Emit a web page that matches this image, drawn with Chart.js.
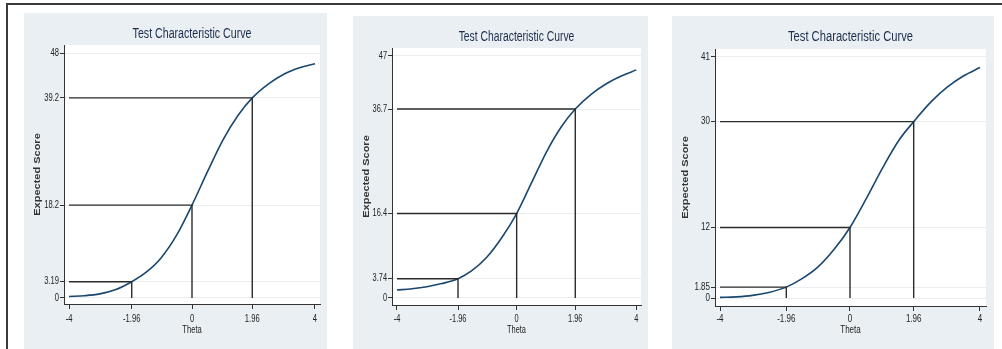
<!DOCTYPE html>
<html>
<head>
<meta charset="utf-8">
<script src="https://cdn.jsdelivr.net/npm/chart.js@4.4.0/dist/chart.umd.min.js"></script>
<style>
  body { margin: 0; width: 1002px; height: 349px; position: relative; overflow: hidden; background: #fff; }
  #frame { position: absolute; left: 6px; top: 3px; width: 1000px; height: 360px;
           border-left: 2px solid #3a3a3a; border-top: 2px solid #3a3a3a; }
  .panel { position: absolute; background: #e9eff2; }
  .panel canvas { display: block; }
</style>
</head>
<body>
<div id="frame"></div>
<div class="panel" style="left:24px;top:13px;width:303px;height:336px"><canvas id="tcc-a" width="303" height="336"></canvas></div>
<div class="panel" style="left:353px;top:16px;width:295px;height:333px"><canvas id="tcc-b" width="295" height="333"></canvas></div>
<div class="panel" style="left:672px;top:16px;width:322px;height:333px"><canvas id="tcc-c" width="322" height="333"></canvas></div>

<script>
// theta grid the curves were read at
const thetaPoints = [-4, -3.5, -3, -2.5, -1.96, -1.5, -1, -0.5, 0, 0.5, 1, 1.5, 1.96, 2.5, 3, 3.5, 4];
const thetaTicks = [-4, -1.96, 0, 1.96, 4];
const thetaLabels = ["-4", "-1.96", "0", "1.96", "4"];
const markThetas = [-1.96, 0, 1.96];

// expected scores
const scoresA = [0.3, 0.45, 0.8, 1.6, 3.19, 5.0, 7.9, 12.3, 18.2, 24.7, 30.9, 35.8, 39.2, 42.0, 43.9, 45.1, 45.9];
const scoresB = [1.55, 1.8, 2.2, 2.8, 3.74, 5.3, 7.9, 11.7, 16.4, 22.4, 28.4, 33.3, 36.7, 39.6, 41.6, 43.1, 44.3];
const scoresC = [0.1, 0.2, 0.45, 0.95, 1.85, 3.2, 5.2, 8.2, 12, 16.9, 22.1, 26.8, 30, 33.4, 35.9, 37.8, 39.2];

const marksA = [3.19, 18.2, 39.2];
const marksB = [3.74, 16.4, 36.7];
const marksC = [1.85, 12, 30];

const yTicksA = [0, 3.19, 18.2, 39.2, 48];
const yLabelsA = ["0", "3.19", "18.2", "39.2", "48"];
const yTicksB = [0, 3.74, 16.4, 36.7, 47];
const yLabelsB = ["0", "3.74", "16.4", "36.7", "47"];
const yTicksC = [0, 1.85, 12, 30, 41];
const yLabelsC = ["0", "1.85", "12", "30", "41"];

const sans = "'Liberation Sans', Arial, sans-serif";

const plotBackground = {
  id: "plotBackground",
  beforeDraw(chart) {
    const a = chart.chartArea;
    const ctx = chart.ctx;
    ctx.save();
    ctx.fillStyle = "#ffffff";
    ctx.fillRect(a.left, a.top, a.right - a.left, a.bottom - a.top);
    ctx.restore();
  },
};

// the source is a horizontally squeezed stata graph, so its text is drawn condensed
function squeezed(ctx, text, x, y, squeeze, align, rotate) {
  ctx.save();
  ctx.translate(x, y);
  ctx.scale(squeeze, 1);
  if (rotate) ctx.rotate(-Math.PI / 2);
  ctx.textAlign = align;
  ctx.textBaseline = "middle";
  ctx.fillText(text, 0, 0);
  ctx.restore();
}

function textPlugin(yTicks, yLabels, squeeze) {
  return {
    id: "stataText",
    afterDraw(chart) {
      const ctx = chart.ctx;
      const a = chart.chartArea;
      const xs = chart.scales.x;
      const ys = chart.scales.y;
      const h = chart.height;
      const midX = (a.left + a.right) / 2;

      ctx.fillStyle = "#1c2c4c";
      ctx.font = "14px " + sans;
      squeezed(ctx, "Test Characteristic Curve", midX, 21, squeeze, "center");

      ctx.fillStyle = "#222";
      ctx.font = "10px " + sans;
      yTicks.forEach(function (v, i) {
        squeezed(ctx, yLabels[i], a.left - 5, ys.getPixelForValue(v), squeeze, "right");
      });
      thetaTicks.forEach(function (t, i) {
        squeezed(ctx, thetaLabels[i], xs.getPixelForValue(t), h - 30, squeeze, "center");
      });

      squeezed(ctx, "Theta", midX, h - 19, squeeze, "center");

      ctx.fillStyle = "#333";
      ctx.font = "bold 11px " + sans;
      squeezed(ctx, "Expected Score", 14, (a.top + a.bottom) / 2, squeeze, "center", true);
    },
  };
}

function makeChart(id, scores, marks, yTicks, yLabels, box) {
  const curve = thetaPoints.map(function (t, i) {
    return { x: t, y: scores[i] };
  });

  const datasets = [];
  markThetas.forEach(function (t, i) {
    datasets.push({
      data: [{ x: -4, y: marks[i] }, { x: t, y: marks[i] }, { x: t, y: 0 }],
      showLine: true,
      borderColor: "#2b2b2b",
      borderWidth: 1.4,
      pointRadius: 0,
      tension: 0,
    });
  });
  datasets.push({
    data: curve,
    showLine: true,
    borderColor: "#1a476f",
    borderWidth: 1.6,
    pointRadius: 0,
    cubicInterpolationMode: "monotone",
  });

  return new Chart(document.getElementById(id), {
    type: "scatter",
    data: { datasets: datasets },
    plugins: [plotBackground, textPlugin(yTicks, yLabels, box.squeeze)],
    options: {
      responsive: false,
      animation: false,
      devicePixelRatio: 1,
      layout: { padding: { left: 0, top: box.top, right: box.right, bottom: 0 } },
      plugins: { legend: { display: false }, tooltip: { enabled: false }, title: { display: false } },
      scales: {
        x: {
          type: "linear",
          min: box.xMin,
          max: box.xMax,
          afterBuildTicks: function (scale) {
            scale.ticks = thetaTicks.map(function (v) { return { value: v }; });
          },
          afterFit: function (scale) { scale.height = box.bottom; },
          ticks: { display: false, autoSkip: false, maxRotation: 0 },
          grid: { drawOnChartArea: false, tickLength: 5, tickColor: "#333", tickWidth: 1 },
          border: { display: true, color: "#333", width: 1 },
        },
        y: {
          type: "linear",
          min: box.yMin,
          max: box.yMax,
          afterBuildTicks: function (scale) {
            scale.ticks = yTicks.map(function (v) { return { value: v }; });
          },
          afterFit: function (scale) { scale.width = box.left; },
          ticks: { display: false, autoSkip: false },
          grid: { color: "#e8eef1", lineWidth: 1, tickLength: 4, tickColor: "#333", tickWidth: 1 },
          border: { display: true, color: "#333", width: 1 },
        },
      },
    },
  });
}

makeChart("tcc-a", scoresA, marksA, yTicksA, yLabelsA,
  { xMin: -4.163, xMax: 4.163, yMin: -1.18, yMax: 49.57, left: 40, top: 32, right: 7, bottom: 45, squeeze: 0.76 });
makeChart("tcc-b", scoresB, marksB, yTicksB, yLabelsB,
  { xMin: -4.167, xMax: 4.157, yMin: -1.36, yMax: 48.55, left: 39, top: 32, right: 7, bottom: 44, squeeze: 0.74 });
makeChart("tcc-c", scoresC, marksC, yTicksC, yLabelsC,
  { xMin: -4.154, xMax: 4.185, yMin: -1.36, yMax: 42.36, left: 43, top: 33, right: 8, bottom: 43, squeeze: 0.8 });
</script>
</body>
</html>
